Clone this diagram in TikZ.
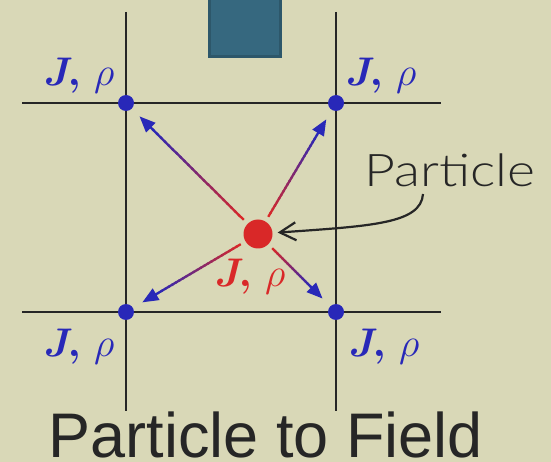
\RequirePackage{fix-cm}
\documentclass[tikz,border=0pt]{standalone}
\usepackage{amsmath,amssymb}
\usepackage{bm}
\usepackage{fontspec}
\setsansfont{Liberation Sans}
\newfontfamily\lightsans[FakeStretch=1.19]{Lato Light}
\usetikzlibrary{arrows.meta,positioning,calc}
\definecolor{SlideBg}{HTML}{D9D8B7}
\definecolor{GridInk}{HTML}{262626}
\definecolor{NodeBlue}{HTML}{2828B8}
\definecolor{ChargeRed}{HTML}{D92828}
\definecolor{BoxTeal}{HTML}{36687F}
\definecolor{BoxEdge}{HTML}{2D576A}

% arrow from particle to a grid node, red fading into blue
\newcommand{\depositarrow}[2]{%
  \coordinate (from) at ($(#1)!20pt!(#2)$);
  \coordinate (tip) at ($(#2)!19pt!(#1)$);
  \coordinate (hbase) at ($(tip)!15pt!(from)$);
  \foreach \k in {0,...,23}{
    \pgfmathtruncatemacro{\mixpct}{100-100*\k/23}
    \draw[line width=2.3pt,ChargeRed!\mixpct!NodeBlue]
      ($(from)!\k/24!(hbase)$) -- ($(from)!\k/24+1.4/24!(hbase)$);
  }
  \draw[line width=2.3pt,NodeBlue,-{Triangle[length=16pt,width=13pt]}] (hbase) -- (tip);
}

\begin{document}
\begin{tikzpicture}[x=1pt,y=-1pt,
    gridline/.style={GridInk,line width=2.4pt},
    gridnode/.style={circle,fill=NodeBlue,inner sep=0pt,minimum size=16pt},
    jrho/.style={anchor=base,text=NodeBlue,font=\fontsize{40}{40}\selectfont}]
  \useasboundingbox (0,0) rectangle (551,462);
  \fill[SlideBg] (0,0) rectangle (551,462);
  \draw[BoxEdge,line width=3pt,fill=BoxTeal] (209,-5) rectangle (280,57);

  \draw[gridline] (22,103) -- (441,103);
  \draw[gridline] (22,312) -- (441,312);
  \draw[gridline] (126,12) -- (126,411);
  \draw[gridline] (336,12) -- (336,411);

  \node[gridnode] (tl) at (126,103) {};
  \node[gridnode] (tr) at (336,103) {};
  \node[gridnode] (bl) at (126,312) {};
  \node[gridnode] (br) at (336,312) {};
  \node[circle,fill=ChargeRed,inner sep=0pt,minimum size=29pt] (p) at (258,234) {};

  \depositarrow{p}{tl}
  \depositarrow{p}{tr}
  \depositarrow{p}{bl}
  \depositarrow{p}{br}

  \node[jrho] (ltl) at (79,86) {$\bm{J}\bm{,}\,\rho$};
  \node[jrho] (ltr) at (381,86) {$\bm{J}\bm{,}\,\rho$};
  \node[jrho] (lbl) at (79,356) {$\bm{J}\bm{,}\,\rho$};
  \node[jrho] (lbr) at (384,356) {$\bm{J}\bm{,}\,\rho$};
  \node[jrho,text=ChargeRed] (lp) at (250,286) {$\bm{J}\bm{,}\,\rho$};

  \node[anchor=base west,inner sep=0pt,text=GridInk,font=\lightsans\fontsize{45}{45}\selectfont] (ptxt) at (364,187) {Particle};
  \coordinate (tail) at (423,194);
  \draw[GridInk,line width=2.2pt,shorten >=5pt,-{Straight Barb[length=16pt,width=18pt]}]
    (tail) .. controls (421,224) and (370,226) .. (p);

  \node[anchor=base,inner sep=0pt,text depth=0pt,text=GridInk,font=\sffamily\fontsize{63}{63}\selectfont] (title) at (266,457) {Particle to Field};
\end{tikzpicture}
\end{document}
